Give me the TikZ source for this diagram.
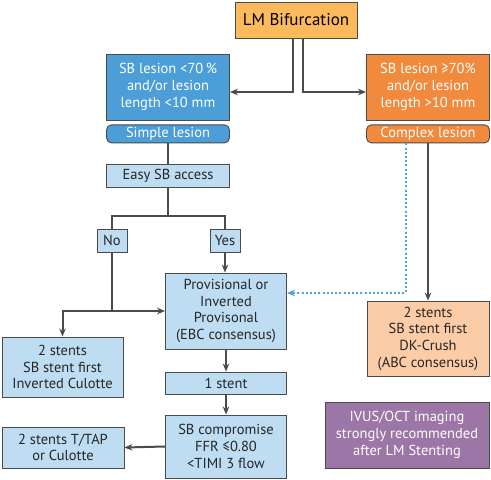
\documentclass[tikz,border=0pt]{standalone}
\usepackage{fontspec}
\setmainfont{PT Sans}
\usepackage{xcolor}
\usepackage{tikz}
\usetikzlibrary{calc}
\usetikzlibrary{arrows.meta,positioning}
\definecolor{lmOrange}{RGB}{253,186,92}
\definecolor{sbBlue}{RGB}{76,158,216}
\definecolor{sbOrange}{RGB}{241,138,60}
\definecolor{paleBlue}{RGB}{190,220,242}
\definecolor{palePeach}{RGB}{252,204,166}
\definecolor{ivusPurple}{RGB}{156,118,166}
\definecolor{edge}{RGB}{75,75,75}
\definecolor{dotBlue}{RGB}{74,163,222}
\begin{document}
\begin{tikzpicture}[x=1pt, y=-1pt,
			box/.style={draw=edge, line width=0.9pt, rectangle, align=center, inner sep=1pt, font=\fontsize{14.5}{16.7}\selectfont},
			darkBox/.style={box, text=white},
			lightBox/.style={box, fill=paleBlue, text=black!85},
			pill/.style={box, rounded corners=0.5em, text=white},
			arrow/.style={draw=edge, line width=2pt},
			arrowStrong/.style={arrow, -{Stealth[length=8pt,width=6.5pt]}},
			arrowDotted/.style={draw=dotBlue, line width=2pt, dash pattern=on 2pt off 2.2pt, -{Stealth[length=8pt,width=6.5pt]}},
			]
			\useasboundingbox (0,0) rectangle (491,480);
			
			% top
			\node[box, fill=lmOrange, minimum width=122pt, minimum height=36pt, font=\fontsize{17}{19}\selectfont] (lm) at (296,20) {LM Bifurcation};
			
			\node[darkBox, fill=sbBlue, minimum width=123pt, minimum height=66pt] (sbLow) at (168,87) {SB lesion <70\,\%\\and/or lesion\\length <10 mm};
			\node[pill, fill=sbBlue, minimum width=123pt, minimum height=18pt, below=4pt of sbLow] (simple) {Simple lesion};
			
			\node[darkBox, fill=sbOrange, minimum width=123pt, minimum height=66pt] (sbHigh) at (428,87) {SB lesion ≥70\%\\and/or lesion\\length >10 mm};
			\node[pill, fill=sbOrange, minimum width=123pt, minimum height=18pt, below=4pt of sbHigh] (complex) {Complex lesion};
			
			% left branch
			\node[lightBox, minimum width=123pt, minimum height=23pt] (easy) at (168,175.5) {Easy SB access};
			\node[lightBox, minimum width=30pt, minimum height=23pt] (no) at (112,240.5) {No};
			\node[lightBox, minimum width=30pt, minimum height=23pt] (yes) at (225,240.5) {Yes};
			
			\node[lightBox, minimum width=121pt, minimum height=76pt] (prov) at (226,311) {Provisional or\\Inverted\\Provisonal\\(EBC consensus)};
			\node[lightBox, minimum width=121pt, minimum height=60pt] (culotte) at (62.5,367) {2 stents\\SB stent first\\Inverted Culotte};
			\node[lightBox, minimum width=121pt, minimum height=22pt] (oneStent) at (226,383) {1 stent};
			\node[lightBox, minimum width=121pt, minimum height=63pt] (compromise) at (226,446.5) {SB compromise\\FFR ≤0.80\\<TIMI 3 flow};
			\node[lightBox, minimum width=122pt, minimum height=41pt] (tap) at (63,447.5) {2 stents T/TAP\\or Culotte};
			
			% right branch
			\node[box, fill=palePeach, text=black!85, minimum width=122pt, minimum height=75pt] (dkCrush) at (428,338.5) {2 stents\\SB stent first\\DK-Crush\\(ABC consensus)};
			\node[darkBox, fill=ivusPurple, minimum width=164pt, minimum height=66pt] (ivus) at (407,435) {IVUS/OCT imaging\\strongly recommended\\after LM Stenting};
			
			% Arrow
			\draw [arrowStrong] ([xshift=-3pt]lm.south) |- ([yshift=-5pt]sbLow.east);
			\draw [arrowStrong] ([xshift=7pt]lm.south) |- ([yshift=-5pt]sbHigh.west);
			
			\draw [arrow] (simple.south) -- (easy.north);
			\draw [arrow] (easy.south) -- ++(0,29) coordinate (split);
			\draw [arrow] (no.north) |- (split) -| (yes.north);
			
			\draw [arrowStrong] (no.south) |- (prov.west);
			\draw [arrowStrong] (no.south |- prov.west) -| (culotte.north);
			\draw [arrowStrong] (yes.south) -- (yes.south |- prov.north);
			\draw [arrowStrong] (prov.south) -- (oneStent.north);
			\draw [arrowStrong] (oneStent.south) -- (compromise.north);
			\draw [arrowStrong] (compromise.west) -- (tap.east);
			
			\draw [arrowStrong] (complex.south) -- (complex.south |- dkCrush.north);
			\draw [arrowDotted] ([xshift=-22pt]complex.south) |- ([yshift=18pt]prov.east);
			
		\end{tikzpicture}
\end{document}
